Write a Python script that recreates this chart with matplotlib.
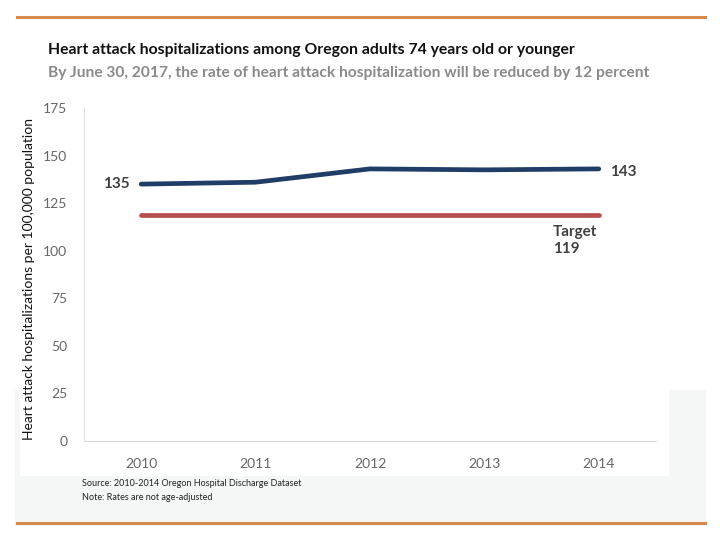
import matplotlib.pyplot as plt
from matplotlib.patches import Rectangle
from matplotlib.lines import Line2D

years = ['2010', '2011', '2012', '2013', '2014']
rates = [135, 136, 143, 142.5, 143]
target = 119
yticks = [0, 25, 50, 75, 100, 125, 150, 175]

plt.rcParams['font.family'] = ['Lato', 'DejaVu Sans']

fig = plt.figure(figsize=(7.2, 5.4), dpi=100)
W, H = 720, 540

def fx(px):
    return px / W

def fy(py):
    return 1 - py / H

# background panels
fig.patches.append(Rectangle((fx(15), fy(525)), fx(690), (525 - 390) / H,
                             transform=fig.transFigure, color='#f4f7f6', zorder=-2))
fig.patches.append(Rectangle((fx(20), fy(475)), fx(648), (475 - 92) / H,
                             transform=fig.transFigure, color='white', zorder=-1))

# orange rules
fig.lines.append(Line2D([fx(17), fx(705)], [fy(17), fy(17)], transform=fig.transFigure,
                        color='#d68a4c', lw=2.2))
fig.lines.append(Line2D([fx(17), fx(705)], [fy(523), fy(523)], transform=fig.transFigure,
                        color='#d68a4c', lw=2.2))

ax = fig.add_axes([fx(84), fy(441), fx(656 - 84), (441 - 108) / H], zorder=2)
ax.set_facecolor('none')
x = range(len(years))
ax.plot(x, rates, color='#1f3d66', lw=3.4, solid_capstyle='round', solid_joinstyle='round')
ax.plot([0, len(years) - 1], [target, target], color='#b5504e', lw=3.4, solid_capstyle='round')

ax.set_xlim(-0.5, len(years) - 0.5)
ax.set_ylim(0, 175)
ax.set_yticks(yticks)
ax.set_xticks(list(x))
ax.set_xticklabels(years)
for s in ['top', 'right']:
    ax.spines[s].set_visible(False)
ax.spines['left'].set_color('#e3e3e3')
ax.spines['bottom'].set_color('#d9d9d9')
ax.tick_params(length=0, colors='#666666', labelsize=10)
ax.tick_params(axis='x', pad=12)
ax.tick_params(axis='y', pad=12)
ax.set_ylabel('Heart attack hospitalizations per 100,000 population', fontsize=10,
              color='#111111')
ax.yaxis.set_label_coords(-0.086, 0.485)

ax.text(-0.1, rates[0], str(int(rates[0])), ha='right', va='center', fontsize=11,
        fontweight='bold', color='#404040')
ax.text(len(years) - 1 + 0.1, rates[-1] - 1.5, str(int(rates[-1])), ha='left', va='center',
        fontsize=11, fontweight='bold', color='#404040')
ax.text(len(years) - 1 - 0.4, target - 5.5, 'Target\n' + str(target), ha='left', va='top',
        fontsize=11, fontweight='bold', color='#404040', linespacing=1.3)

fig.text(fx(48), fy(50), 'Heart attack hospitalizations among Oregon adults 74 years old or younger',
         fontsize=11.3, fontweight='bold', color='#111111', va='center')
fig.text(fx(48), fy(73), 'By June 30, 2017, the rate of heart attack hospitalization will be reduced by 12 percent',
         fontsize=11.2, fontweight='bold', color='#8a8a8a', va='center')
fig.text(fx(82), fy(483), 'Source: 2010-2014 Oregon Hospital Discharge Dataset', fontsize=6.5,
         color='#222222', va='center')
fig.text(fx(82), fy(497), 'Note: Rates are not age-adjusted', fontsize=6.5,
         color='#222222', va='center')

fig.savefig('out.png', dpi=100)
